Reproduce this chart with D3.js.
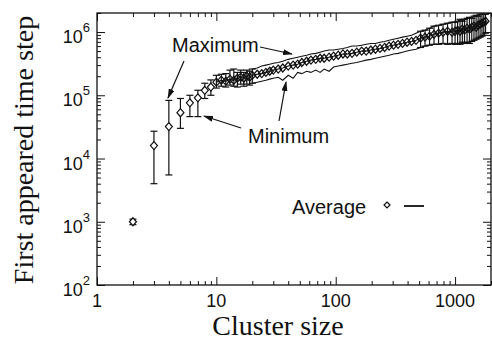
<!DOCTYPE html>
<html>
<head>
<meta charset="utf-8">
<script src="https://cdn.jsdelivr.net/npm/d3@7"></script>
<style>
  body { margin: 0; background: #fff; }
  .tick-label { font-family: 'Liberation Sans', Arial, Helvetica, sans-serif; font-size: 18px; fill: #111; }
  .title { font-family: 'Liberation Serif', 'Times New Roman', serif; font-size: 28px; fill: #111; }
  .note { font-family: 'Liberation Sans', Arial, Helvetica, sans-serif; font-size: 20px; fill: #111; }
</style>
</head>
<body>
<svg id="chart" width="492" height="341"></svg>
<script>
// cluster sizes where the first appearance was recorded
const sizes = [2, 3, 4, 5, 6, 7, 8, 9,
  10, 11, 12, 13, 14, 15, 16, 17, 18, 19, 20,
  22, 24, 26, 28, 30,
  33, 36, 40, 44, 48, 52, 57, 62, 68, 74, 80, 88, 96,
  105, 115, 125, 137, 150, 165, 180, 197, 215, 235, 257, 280, 305, 333, 363, 396, 432, 471, 514, 560, 611, 666, 727, 793, 865, 943,
  1000, 1050, 1100, 1150, 1200, 1260, 1320, 1380, 1440, 1500, 1560, 1620, 1680, 1740, 1800];

const average = [1000, 1.6e4, 3.2e4, 5.3e4, 7.6e4, 9.1e4, 1.2e5, 1.35e5,
  1.61e5, 1.73e5, 1.67e5, 1.8e5, 1.73e5, 1.86e5, 1.93e5, 1.86e5, 2.0e5, 1.93e5, 2.07e5,
  2.15e5, 2.2e5, 2.3e5, 2.4e5, 2.5e5,
  2.6e5, 2.7e5, 2.9e5, 3.0e5, 3.1e5, 3.3e5, 3.45e5, 3.6e5, 3.7e5, 3.85e5, 3.85e5, 4.0e5, 4.15e5,
  4.3e5, 4.5e5, 4.5e5, 4.6e5, 4.8e5, 5.0e5, 5.0e5, 5.2e5, 5.35e5, 5.5e5, 5.7e5, 6.0e5, 6.2e5, 6.4e5, 6.6e5, 6.9e5, 7.1e5, 7.4e5, 8.0e5, 8.3e5, 8.6e5, 9.2e5, 9.6e5, 9.9e5, 1.03e6, 9.9e5,
  1.03e6, 1.07e6, 1.03e6, 1.11e6, 1.07e6, 1.15e6, 1.11e6, 1.19e6, 1.24e6, 1.19e6, 1.28e6, 1.33e6, 1.38e6, 1.43e6, 1.48e6];

const maximum = [1100, 2.7e4, 8.3e4, 8.9e4, 1.0e5, 1.2e5, 1.55e5, 1.75e5,
  2.07e5, 2.15e5, 2.2e5, 2.5e5, 2.6e5, 2.3e5, 2.5e5, 2.3e5, 2.5e5, 2.4e5, 2.6e5,
  2.7e5, 2.9e5, 3.0e5, 3.1e5, 3.2e5,
  3.3e5, 3.45e5, 3.7e5, 3.85e5, 4.0e5, 4.15e5, 4.3e5, 4.5e5, 4.6e5, 4.8e5, 5.0e5, 5.2e5, 5.2e5,
  5.35e5, 5.5e5, 5.7e5, 6.0e5, 6.0e5, 6.2e5, 6.4e5, 6.6e5, 6.6e5, 6.9e5, 7.1e5, 7.4e5, 7.7e5, 8.0e5, 8.3e5, 8.6e5, 8.9e5, 9.6e5, 1.03e6, 1.07e6, 1.15e6, 1.24e6, 1.28e6, 1.33e6, 1.38e6, 1.43e6,
  1.43e6, 1.48e6, 1.59e6, 1.48e6, 1.59e6, 1.65e6, 1.71e6, 1.65e6, 1.78e6, 1.84e6, 1.78e6, 1.91e6, 1.91e6, 1.91e6, 1.91e6];

const minimum = [900, 4000, 5500, 3.0e4, 4.6e4, 4.6e4, 8.9e4, 1.0e5,
  1.3e5, 1.39e5, 1.35e5, 1.45e5, 1.39e5, 1.35e5, 1.5e5, 1.39e5, 1.5e5, 1.45e5, 1.55e5,
  1.61e5, 1.67e5, 1.73e5, 1.8e5, 1.86e5,
  1.93e5, 1.73e5, 2.07e5, 1.86e5, 2.3e5, 2.2e5, 2.4e5, 2.3e5, 2.5e5, 2.3e5, 2.6e5, 2.4e5, 2.8e5,
  2.9e5, 3.0e5, 3.1e5, 3.2e5, 3.3e5, 3.45e5, 3.6e5, 3.7e5, 3.85e5, 4.0e5, 4.15e5, 4.3e5, 4.5e5, 4.6e5, 4.8e5, 5.0e5, 5.2e5, 5.35e5, 5.7e5, 6.0e5, 6.2e5, 6.4e5, 6.4e5, 6.6e5, 6.4e5, 6.6e5,
  6.4e5, 6.6e5, 6.4e5, 6.9e5, 6.6e5, 6.9e5, 6.6e5, 7.1e5, 7.4e5, 7.7e5, 8.0e5, 8.3e5, 8.6e5, 8.9e5, 9.6e5];

const xTicks = [1, 10, 100, 1000];
const yTicks = [1e2, 1e3, 1e4, 1e5, 1e6];

const margin = { top: 13, right: 1, bottom: 56, left: 97 };
const width = 492, height = 341;

const svg = d3.select('#chart');

const x = d3.scaleLog().domain([1, 2000]).range([margin.left, width - margin.right]);
const y = d3.scaleLog().domain([100, 2e6]).range([height - margin.bottom, margin.top]);

const pts = sizes.map((s, i) => ({ s: s, avg: average[i], max: maximum[i], min: minimum[i] }));

// arrowhead for the annotations
svg.append('defs').append('marker')
  .attr('id', 'arrow')
  .attr('markerUnits', 'userSpaceOnUse')
  .attr('markerWidth', 10).attr('markerHeight', 6)
  .attr('refX', 9).attr('refY', 3)
  .attr('orient', 'auto')
  .append('path')
  .attr('d', 'M0,0 L10,3 L0,6 Z')
  .attr('fill', '#111');

// ticks on all four sides, pointing inward
const minorX = x.ticks().filter(d => !xTicks.includes(d));
const minorY = y.ticks().filter(d => !yTicks.includes(d));

function drawTicks(axisFn, scale, pos, major, minor) {
  [[major, 8], [minor, 4]].forEach(([vals, len]) => {
    svg.append('g')
      .attr('transform', pos)
      .call(axisFn(scale).tickValues(vals).tickSize(-len).tickFormat(''))
      .call(g => g.select('.domain').remove())
      .call(g => g.selectAll('line').attr('stroke', '#111').attr('stroke-width', 1));
  });
}
drawTicks(d3.axisBottom, x, `translate(0,${y.range()[0]})`, xTicks, minorX);
drawTicks(d3.axisTop, x, `translate(0,${y.range()[1]})`, xTicks, minorX);
drawTicks(d3.axisLeft, y, `translate(${x.range()[0]},0)`, yTicks, minorY);
drawTicks(d3.axisRight, y, `translate(${x.range()[1]},0)`, yTicks, minorY);

svg.append('rect')
  .attr('x', x.range()[0]).attr('y', y.range()[1])
  .attr('width', x.range()[1] - x.range()[0])
  .attr('height', y.range()[0] - y.range()[1])
  .attr('fill', 'none').attr('stroke', '#111').attr('stroke-width', 1.3);

// tick labels
svg.append('g').selectAll('text').data(xTicks).join('text')
  .attr('class', 'tick-label')
  .attr('x', d => x(d)).attr('y', y.range()[0] + 22)
  .attr('text-anchor', 'middle')
  .text(d => d);

const yl = svg.append('g').selectAll('text').data(yTicks).join('text')
  .attr('class', 'tick-label')
  .attr('x', x.range()[0] - 7).attr('y', d => y(d) + 11)
  .attr('text-anchor', 'end');
yl.append('tspan').text('10');
yl.append('tspan').attr('dy', -11).attr('font-size', 13).text(d => Math.round(Math.log10(d)));

// axis titles
svg.append('text').attr('class', 'title')
  .attr('x', 278).attr('y', 335)
  .attr('font-size', 23)
  .attr('text-anchor', 'middle')
  .text('Cluster size');

svg.append('text').attr('class', 'title')
  .attr('transform', 'translate(33,150) rotate(-90)')
  .attr('text-anchor', 'middle')
  .text('First appeared time step');

// min-max bars: small clusters, and the crowded large-cluster end
const barPts = pts.filter(d => d.s <= 20 || d.s >= 500);
const bars = svg.append('g').attr('stroke', '#111').attr('stroke-width', 1.2);
bars.selectAll('.v').data(barPts).join('line')
  .attr('x1', d => x(d.s)).attr('x2', d => x(d.s))
  .attr('y1', d => y(d.min)).attr('y2', d => y(d.max));
['min', 'max'].forEach(k => {
  bars.selectAll('.c' + k).data(barPts).join('line')
    .attr('x1', d => x(d.s) - 3.5).attr('x2', d => x(d.s) + 3.5)
    .attr('y1', d => y(d[k])).attr('y2', d => y(d[k]));
});

// max / min / average curves for larger clusters
const linePts = pts.filter(d => d.s >= 20);
['max', 'min'].forEach(k => {
  svg.append('path')
    .datum(linePts)
    .attr('fill', 'none').attr('stroke', '#111').attr('stroke-width', 1.1)
    .attr('d', d3.line().x(d => x(d.s)).y(d => y(d[k])));
});
svg.append('path')
  .datum(pts.filter(d => d.s >= 10))
  .attr('fill', 'none').attr('stroke', '#111').attr('stroke-width', 1.1)
  .attr('d', d3.line().x(d => x(d.s)).y(d => y(d.avg)));

// average markers (white-filled where they stand apart)
const diamond = 'M0,-4 L3.5,0 L0,4 L-3.5,0 Z';
svg.append('g').selectAll('path').data(pts).join('path')
  .attr('transform', d => `translate(${x(d.s)},${y(d.avg)})`)
  .attr('d', diamond)
  .attr('fill', d => d.s < 10 ? '#fff' : 'none')
  .attr('stroke', '#111').attr('stroke-width', 1.2);

// annotations
svg.append('text').attr('class', 'note').attr('x', 172).attr('y', 52).text('Maximum');
svg.append('text').attr('class', 'note').attr('x', 248).attr('y', 143).text('Minimum');
const arrows = [
  [[260, 47], [292, 54]],
  [[184, 61], [168, 98]],
  [[241, 128], [204, 116]],
  [[279, 121], [286, 82]]
];
svg.append('g').selectAll('line').data(arrows).join('line')
  .attr('x1', d => d[0][0]).attr('y1', d => d[0][1])
  .attr('x2', d => d[1][0]).attr('y2', d => d[1][1])
  .attr('stroke', '#111').attr('stroke-width', 1.2)
  .attr('marker-end', 'url(#arrow)');

// legend
svg.append('text').attr('class', 'note').attr('x', 292).attr('y', 214).text('Average');
svg.append('path').attr('transform', 'translate(387,205)').attr('d', 'M0,-3 L3,0 L0,3 L-3,0 Z')
  .attr('fill', '#fff').attr('stroke', '#111').attr('stroke-width', 1.2);
svg.append('line').attr('x1', 404).attr('x2', 424).attr('y1', 206).attr('y2', 206)
  .attr('stroke', '#111').attr('stroke-width', 1.8);
</script>
</body>
</html>
